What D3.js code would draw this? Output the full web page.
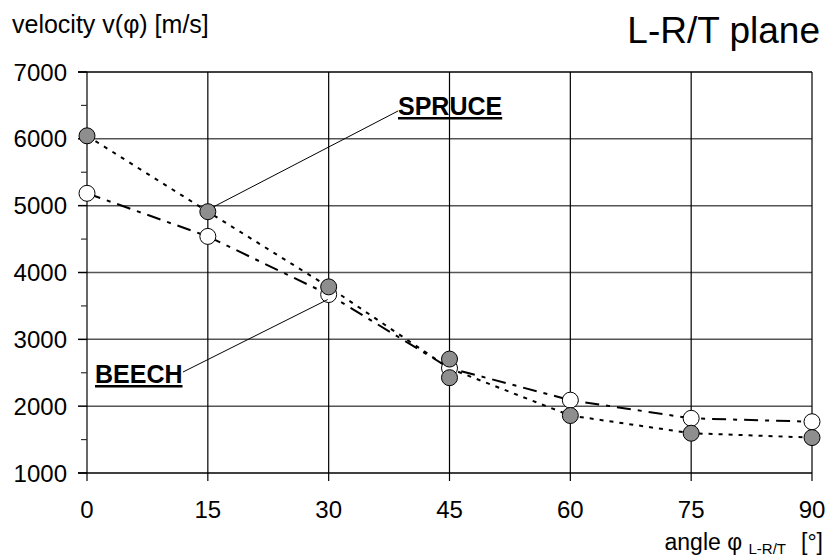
<!DOCTYPE html>
<html>
<head>
<meta charset="utf-8">
<script src="https://cdn.jsdelivr.net/npm/d3@7"></script>
<style>
  body { margin: 0; background: #fff; }
  text { font-family: Arial, "Liberation Sans", sans-serif; fill: #000; }
</style>
</head>
<body>
<script>
// data
var angles = [0, 15, 30, 45, 60, 75, 90];
var beech = [5185, 4540, 3670, 2570, 2090, 1818, 1767];
var spruceLine = [6045, 4910, 3785, 2565, 1860, 1595, 1530];
// spruce markers: at 45 deg two separate measurements
var sprucePts = [[0, 6045], [15, 4910], [30, 3785], [45, 2705], [45, 2426], [60, 1860], [75, 1595], [90, 1530]];
var yTicks = [1000, 2000, 3000, 4000, 5000, 6000, 7000];
var yMinor = [1500, 2500, 3500, 4500, 5500, 6500];

var W = 828, H = 560;
var margin = { top: 72, right: 16, bottom: 87, left: 87 };

var svg = d3.select("body").append("svg")
    .attr("width", W)
    .attr("height", H);

var x = d3.scaleLinear().domain([0, 90]).range([margin.left, W - margin.right]);
var y = d3.scaleLinear().domain([1000, 7000]).range([H - margin.bottom, margin.top]);

// grid
svg.append("g").selectAll("line")
    .data(yTicks.slice(1, -1))
    .enter().append("line")
    .attr("x1", x(0)).attr("x2", x(90))
    .attr("y1", function(d) { return y(d); })
    .attr("y2", function(d) { return y(d); })
    .attr("stroke", "#555").attr("stroke-width", 1.5);

svg.append("g").selectAll("line")
    .data(angles)
    .enter().append("line")
    .attr("x1", function(d) { return x(d); })
    .attr("x2", function(d) { return x(d); })
    .attr("y1", y(7000)).attr("y2", y(1000) + 8)
    .attr("stroke", "#000").attr("stroke-width", 1.2);

// top and bottom frame
[1000, 7000].forEach(function(v) {
  svg.append("line")
      .attr("x1", x(0) - 9).attr("x2", x(90))
      .attr("y1", y(v)).attr("y2", y(v))
      .attr("stroke", "#000").attr("stroke-width", 1.5);
});

// y ticks
svg.append("g").selectAll("line")
    .data(yTicks)
    .enter().append("line")
    .attr("x1", x(0) - 9).attr("x2", x(0))
    .attr("y1", function(d) { return y(d); })
    .attr("y2", function(d) { return y(d); })
    .attr("stroke", "#000").attr("stroke-width", 1.5);
svg.append("g").selectAll("line")
    .data(yMinor)
    .enter().append("line")
    .attr("x1", x(0) - 6).attr("x2", x(0))
    .attr("y1", function(d) { return y(d); })
    .attr("y2", function(d) { return y(d); })
    .attr("stroke", "#333").attr("stroke-width", 1.2);

// tick labels
svg.append("g").selectAll("text")
    .data(yTicks)
    .enter().append("text")
    .attr("x", x(0) - 20)
    .attr("y", function(d) { return y(d); })
    .attr("dy", "0.36em")
    .attr("text-anchor", "end")
    .attr("font-size", "24px")
    .text(function(d) { return d; });

svg.append("g").selectAll("text")
    .data(angles)
    .enter().append("text")
    .attr("x", function(d) { return x(d); })
    .attr("y", 518)
    .attr("text-anchor", "middle")
    .attr("font-size", "24px")
    .text(function(d) { return d; });

// lines
var line = d3.line()
    .x(function(d) { return x(d[0]); })
    .y(function(d) { return y(d[1]); });

svg.append("path")
    .datum(d3.zip(angles, beech))
    .attr("d", line)
    .attr("fill", "none")
    .attr("stroke", "#000")
    .attr("stroke-width", 2)
    .attr("stroke-dasharray", "14,7,4,7");

svg.append("path")
    .datum(d3.zip(angles, spruceLine))
    .attr("d", line)
    .attr("fill", "none")
    .attr("stroke", "#000")
    .attr("stroke-width", 2)
    .attr("stroke-dasharray", "4,6");

// markers
svg.append("g").selectAll("circle")
    .data(d3.zip(angles, beech))
    .enter().append("circle")
    .attr("cx", function(d) { return x(d[0]); })
    .attr("cy", function(d) { return y(d[1]); })
    .attr("r", 8)
    .attr("fill", "#fff")
    .attr("stroke", "#000")
    .attr("stroke-width", 1);

svg.append("g").selectAll("circle")
    .data(sprucePts)
    .enter().append("circle")
    .attr("cx", function(d) { return x(d[0]); })
    .attr("cy", function(d) { return y(d[1]); })
    .attr("r", 8)
    .attr("fill", "#8e8e8e")
    .attr("stroke", "#000")
    .attr("stroke-width", 1);

// annotations
svg.append("line")
    .attr("x1", x(15) + 6).attr("y1", y(4910) - 5)
    .attr("x2", 398).attr("y2", 111)
    .attr("stroke", "#000").attr("stroke-width", 1);
svg.append("text")
    .attr("x", 398).attr("y", 115)
    .attr("font-size", "25px").attr("font-weight", "bold")
    .attr("text-decoration", "underline")
    .text("SPRUCE");

svg.append("line")
    .attr("x1", x(30) - 1).attr("y1", y(3670) + 5)
    .attr("x2", 183).attr("y2", 372)
    .attr("stroke", "#000").attr("stroke-width", 1);
svg.append("text")
    .attr("x", 95).attr("y", 383)
    .attr("font-size", "25px").attr("font-weight", "bold")
    .attr("text-decoration", "underline")
    .text("BEECH");

// titles
svg.append("text")
    .attr("x", 12).attr("y", 33)
    .attr("font-size", "25px")
    .text("velocity v(φ) [m/s]");

svg.append("text")
    .attr("x", 820).attr("y", 43)
    .attr("text-anchor", "end")
    .attr("font-size", "37px")
    .text("L-R/T plane");

var xl = svg.append("text")
    .attr("x", 823).attr("y", 550)
    .attr("text-anchor", "end")
    .attr("font-size", "23px");
xl.append("tspan").text("angle φ ");
xl.append("tspan").attr("font-size", "15px").attr("dy", 4).text("L-R/T");
xl.append("tspan").attr("dy", -4).attr("dx", 15).text("[°]");
</script>
</body>
</html>
